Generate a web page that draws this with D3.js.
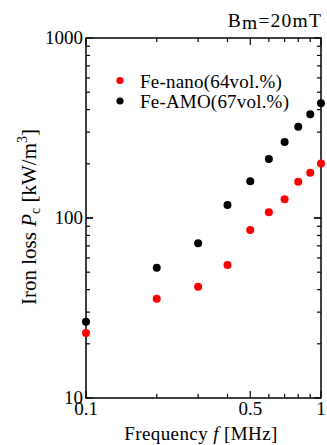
<!DOCTYPE html>
<html><head><meta charset="utf-8">
<script src="https://cdn.jsdelivr.net/npm/d3@7"></script>
<style>body{margin:0;background:#fff}svg{display:block}text{font-family:"Liberation Serif","Times New Roman",serif;fill:#000}</style>
</head><body><svg id="c" width="327" height="445"></svg>
<script>
const frequencies = [0.1, 0.2, 0.3, 0.4, 0.5, 0.6, 0.7, 0.8, 0.9, 1.0];
const feNano = [23.0, 35.6, 41.5, 54.8, 85.8, 107.6, 127, 159, 178.5, 201];
const feAmo = [26.5, 53.0, 72.3, 118, 160, 213, 264, 321, 377, 434];
const seriesNames = ["Fe-nano(64vol.%)", "Fe-AMO(67vol.%)"];
const seriesColors = ["#ff0000", "#000000"];
const xTickLabels = [[0.1, "0.1"], [0.5, "0.5"], [1, "1"]];
const yTickLabels = [[10, "10"], [100, "100"], [1000, "1000"]];

const svg = d3.select("#c");
const L = 86, R = 321, T = 38, B = 398;
const x = d3.scaleLog().domain([0.1, 1]).range([L, R]);
const y = d3.scaleLog().domain([10, 1000]).range([B, T]);

const minorX = d3.range(1, 10).map(i => i / 10).concat([1]);
const minorY = [];
for (let d = 10; d < 1000; d *= 10) for (let i = 1; i <= 10; i++) minorY.push(d * i);

function tickLen(v, majors) { return majors.some(m => Math.abs(m - v) < 1e-9) ? 7 : 4; }
const xMaj = [0.1, 0.5, 1], yMaj = [10, 100, 1000];

const g = svg.append("g").attr("stroke", "#000").attr("stroke-width", 1.2);
minorX.forEach(v => {
  const len = tickLen(v, xMaj);
  g.append("line").attr("x1", x(v)).attr("x2", x(v)).attr("y1", B).attr("y2", B - len);
  g.append("line").attr("x1", x(v)).attr("x2", x(v)).attr("y1", T).attr("y2", T + len);
});
minorY.forEach(v => {
  const len = tickLen(v, yMaj);
  g.append("line").attr("x1", L).attr("x2", L + len).attr("y1", y(v)).attr("y2", y(v));
  g.append("line").attr("x1", R).attr("x2", R - len).attr("y1", y(v)).attr("y2", y(v));
});
svg.append("rect").attr("x", L).attr("y", T).attr("width", R - L).attr("height", B - T)
  .attr("fill", "none").attr("stroke", "#000").attr("stroke-width", 1.5);

xTickLabels.forEach(([v, t]) => svg.append("text").attr("x", x(v)).attr("y", B + 17)
  .attr("text-anchor", "middle").attr("font-size", 19).text(t));
yTickLabels.forEach(([v, t]) => svg.append("text").attr("x", L - 3).attr("y", y(v) + 6)
  .attr("text-anchor", "end").attr("font-size", 19).text(t));

[feNano, feAmo].forEach((arr, si) => {
  svg.append("g").selectAll("circle").data(arr).join("circle")
    .attr("cx", (d, i) => x(frequencies[i])).attr("cy", d => y(d))
    .attr("r", 4).attr("fill", seriesColors[si]);
});

seriesNames.forEach((n, i) => {
  svg.append("circle").attr("cx", 120).attr("cy", 80.5 + i * 20.5).attr("r", 3.6).attr("fill", seriesColors[i]);
  svg.append("text").attr("x", 140).attr("y", 88 + i * 20).attr("font-size", 19)
    .attr("letter-spacing", 0.2).text(n);
});

const title = svg.append("text").attr("x", 322).attr("y", 27).attr("text-anchor", "end")
  .attr("font-size", 19.5).attr("letter-spacing", 1.2);
title.append("tspan").text("B");
title.append("tspan").attr("dy", 2).text("m");
title.append("tspan").attr("dy", -2).text("=20mT");

const xl = svg.append("text").attr("x", 201).attr("y", 440).attr("text-anchor", "middle")
  .attr("font-size", 19).attr("letter-spacing", 0.4);
xl.append("tspan").text("Frequency ");
xl.append("tspan").attr("font-style", "italic").text("f");
xl.append("tspan").text(" [MHz]");

const yl = svg.append("text").attr("transform", "translate(36,217) rotate(-90)")
  .attr("text-anchor", "middle").attr("font-size", 21);
yl.append("tspan").text("Iron loss ");
yl.append("tspan").attr("font-style", "italic").text("P");
yl.append("tspan").attr("font-size", 14).attr("dy", 4).text("c");
yl.append("tspan").attr("dy", -4).text(" [kW/m");
yl.append("tspan").attr("font-size", 14).attr("dy", -9).text("3");
yl.append("tspan").attr("dy", 9).text("]");
</script></body></html>
